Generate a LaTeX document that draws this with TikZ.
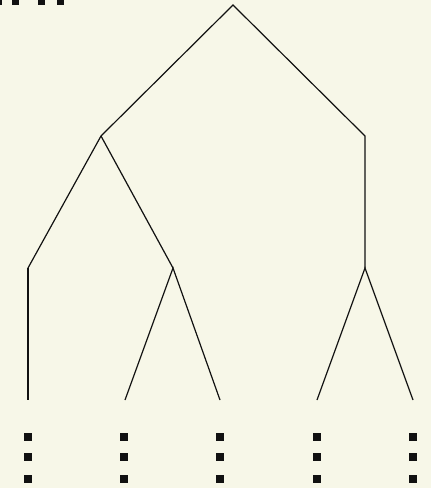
\documentclass[tikz,border=0pt]{standalone}
\usepackage{tikz}
\definecolor{paper}{RGB}{247,247,232}
\definecolor{ink}{RGB}{17,17,17}

\begin{document}
\begin{tikzpicture}[x=1pt,y=-1pt,line width=1.2pt]
% background and frame
\fill[paper] (0,0) rectangle (431,488);
\useasboundingbox (0,0) rectangle (431,488);
% clipped dots at the top edge
\clip (0,0) rectangle (431,488);
\foreach \x in {-2,15,41,60} \fill[ink] (\x-3.5,-3) rectangle (\x+3.5,5);
% branch points
\coordinate (root) at (233,5);
\coordinate (l) at (101,136);
\coordinate (r) at (365,136);
\coordinate (ll) at (28,268);
\coordinate (lr) at (173,268);
\coordinate (rr) at (365,268);
\coordinate (t1) at (28,400);
\coordinate (t2) at (125,400);
\coordinate (t3) at (220,400);
\coordinate (t4) at (317,400);
\coordinate (t5) at (413,400);
% branches
\draw[ink] (ll)--(l)--(root)--(r)--(rr);
\draw[ink] (l)--(lr);
\draw[ink] (ll)--(t1);
\draw[ink] (t2)--(lr)--(t3);
\draw[ink] (t4)--(rr)--(t5);
% vertical dots below the leaves
\foreach \x in {28,124,220,317,413}
  \foreach \y in {437,457,479} \fill[ink] (\x-4,\y-4) rectangle (\x+4,\y+4);
\end{tikzpicture}
\end{document}
